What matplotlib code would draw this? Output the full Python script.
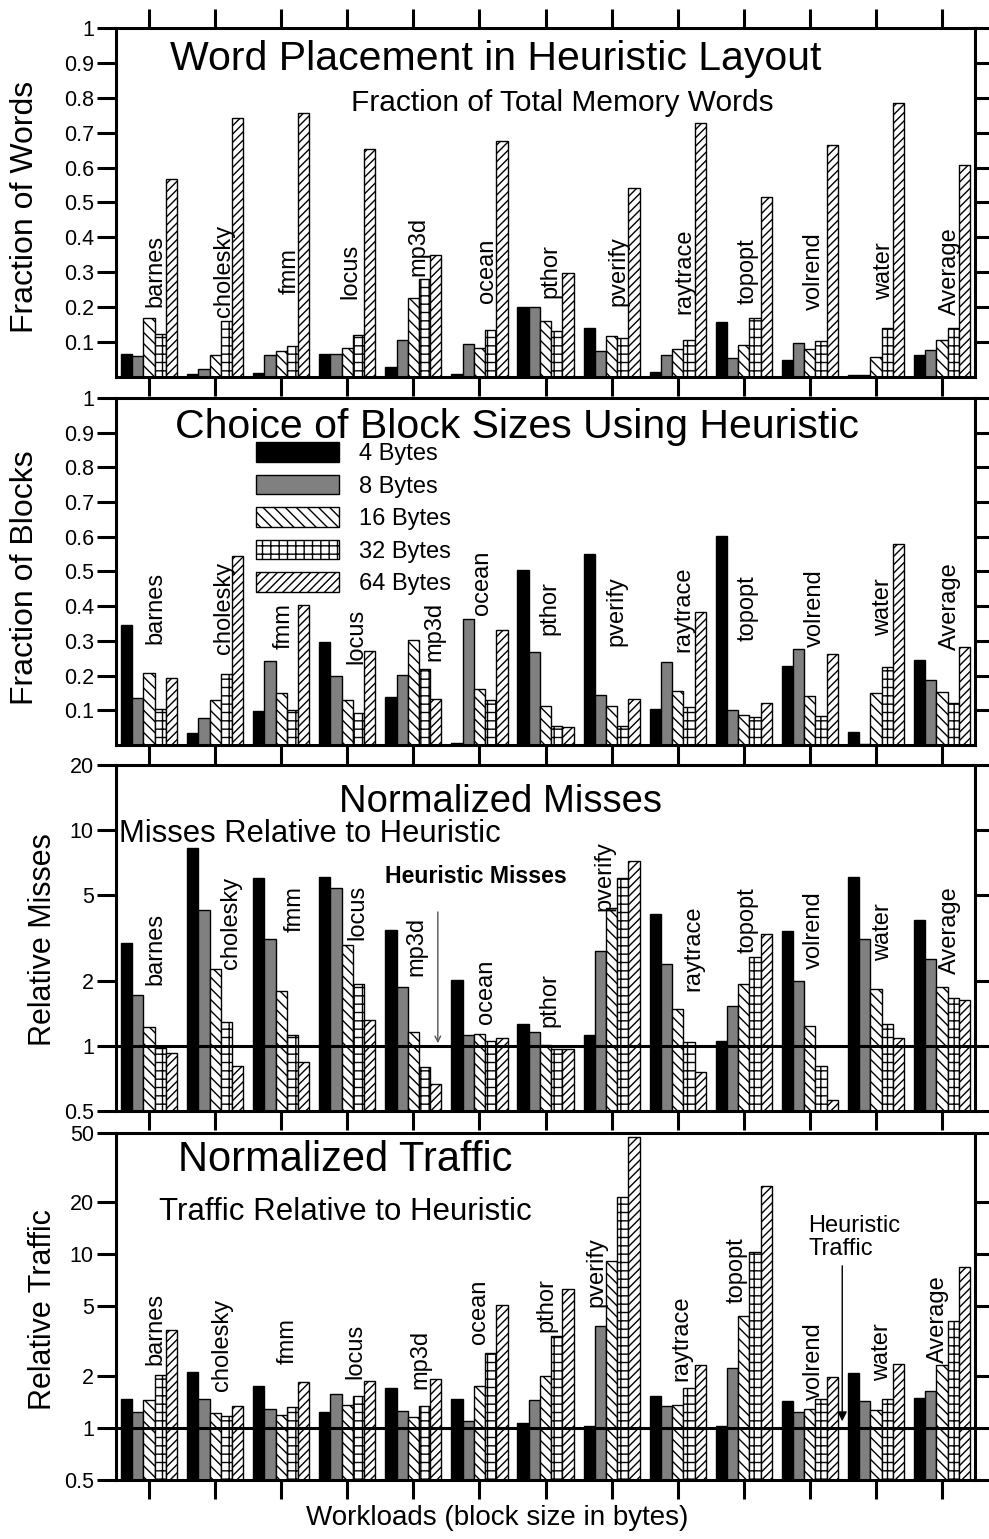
import numpy as np
import matplotlib
matplotlib.use("Agg")
import matplotlib.pyplot as plt
from matplotlib.ticker import NullLocator, FixedLocator, FixedFormatter

plt.rcParams['font.family'] = ['Liberation Sans', 'DejaVu Sans']
plt.rcParams['hatch.linewidth'] = 1.0

workloads = ["barnes", "cholesky", "fmm", "locus", "mp3d", "ocean", "pthor",
             "pverify", "raytrace", "topopt", "volrend", "water", "Average"]
sizes = ["4 Bytes", "8 Bytes", "16 Bytes", "32 Bytes", "64 Bytes"]

# fraction of total memory words placed in each block size
words_4 = [0.067, 0.010, 0.012, 0.067, 0.030, 0.010, 0.200, 0.141, 0.014, 0.158, 0.049, 0.006, 0.063]
words_8 = [0.060, 0.022, 0.062, 0.067, 0.107, 0.095, 0.200, 0.075, 0.062, 0.054, 0.096, 0.006, 0.076]
words_16 = [0.170, 0.062, 0.075, 0.083, 0.225, 0.082, 0.160, 0.117, 0.080, 0.091, 0.079, 0.057, 0.107]
words_32 = [0.122, 0.160, 0.088, 0.120, 0.280, 0.134, 0.132, 0.112, 0.106, 0.170, 0.103, 0.140, 0.140]
words_64 = [0.568, 0.743, 0.755, 0.654, 0.349, 0.677, 0.298, 0.542, 0.728, 0.517, 0.664, 0.784, 0.607]

# fraction of blocks chosen at each size
blocks_4 = [0.347, 0.035, 0.098, 0.298, 0.138, 0.006, 0.503, 0.549, 0.104, 0.602, 0.227, 0.037, 0.246]
blocks_8 = [0.136, 0.079, 0.242, 0.200, 0.203, 0.363, 0.267, 0.144, 0.239, 0.100, 0.278, 0.004, 0.188]
blocks_16 = [0.208, 0.129, 0.151, 0.129, 0.302, 0.160, 0.112, 0.112, 0.156, 0.087, 0.141, 0.149, 0.154]
blocks_32 = [0.105, 0.205, 0.100, 0.091, 0.220, 0.129, 0.056, 0.054, 0.109, 0.081, 0.083, 0.225, 0.121]
blocks_64 = [0.194, 0.545, 0.403, 0.271, 0.132, 0.330, 0.053, 0.132, 0.383, 0.122, 0.261, 0.578, 0.283]

# misses relative to heuristic layout
misses_4 = [3.01, 8.28, 6.02, 6.08, 3.43, 2.02, 1.26, 1.12, 4.09, 1.05, 3.39, 6.08, 3.83]
misses_8 = [1.73, 4.25, 3.13, 5.38, 1.88, 1.13, 1.165, 2.75, 2.39, 1.53, 2.00, 3.13, 2.54]
misses_16 = [1.23, 2.28, 1.80, 2.94, 1.165, 1.14, 1.01, 4.35, 1.49, 1.93, 1.24, 1.83, 1.87]
misses_32 = [0.977, 1.29, 1.12, 1.94, 0.80, 1.05, 0.97, 6.02, 1.04, 2.58, 0.805, 1.26, 1.66]
misses_64 = [0.93, 0.81, 0.84, 1.32, 0.664, 1.085, 0.97, 7.20, 0.76, 3.30, 0.56, 1.09, 1.64]

# traffic relative to heuristic layout
traffic_4 = [1.46, 2.10, 1.73, 1.24, 1.70, 1.46, 1.06, 1.03, 1.53, 1.03, 1.42, 2.07, 1.49]
traffic_8 = [1.24, 1.47, 1.29, 1.56, 1.25, 1.10, 1.45, 3.84, 1.33, 2.21, 1.24, 1.42, 1.62]
traffic_16 = [1.44, 1.22, 1.19, 1.35, 1.15, 1.73, 2.00, 9.09, 1.36, 4.38, 1.28, 1.27, 2.29]
traffic_32 = [2.02, 1.17, 1.32, 1.53, 1.33, 2.70, 3.40, 21.5, 1.69, 10.3, 1.47, 1.47, 4.15]
traffic_64 = [3.67, 1.33, 1.83, 1.87, 1.90, 5.10, 6.30, 47.4, 2.31, 24.6, 1.95, 2.32, 8.40]

# where the rotated workload names sit in each panel (x in group units, y in data units)
lab_x = [
    [0.10, 1.13, 2.13, 3.04, 4.07, 5.12, 6.07, 7.10, 8.10, 9.06, 10.06, 11.12, 12.12],
    [0.10, 1.13, 2.03, 3.13, 4.32, 5.04, 6.06, 7.08, 8.09, 9.06, 10.07, 11.10, 12.12],
    [0.10, 1.24, 2.20, 3.15, 4.05, 5.10, 6.06, 6.89, 8.23, 9.06, 10.06, 11.10, 12.12],
    [0.09, 1.10, 2.10, 3.12, 4.10, 5.00, 6.02, 6.77, 8.06, 8.89, 10.06, 11.09, 11.94],
]
lab_y = [
    [0.304, 0.304, 0.304, 0.304, 0.373, 0.304, 0.304, 0.304, 0.304, 0.304, 0.304, 0.304, 0.304],
    [0.394, 0.394, 0.342, 0.312, 0.327, 0.466, 0.394, 0.387, 0.390, 0.395, 0.394, 0.398, 0.400],
    [2.82, 3.73, 4.32, 4.14, 2.89, 1.78, 1.64, 6.15, 2.84, 3.83, 3.44, 3.38, 3.44],
    [3.70, 3.00, 3.17, 2.74, 2.47, 4.66, 5.10, 7.87, 3.30, 8.10, 2.43, 2.72, 4.24],
]

styles = [
    dict(facecolor="black"),
    dict(facecolor="#808080"),
    dict(facecolor="white", hatch="\\\\\\"),
    dict(facecolor="white", hatch="++"),
    dict(facecolor="white", hatch="////"),
]

fig = plt.figure(figsize=(9.89, 15.39), dpi=100)
L, W = 0.1173, 0.8686
rects = [
    [L, 0.75504, W, 0.22677],
    [L, 0.51592, W, 0.22547],
    [L, 0.27810, W, 0.22482],
    [L, 0.03834, W, 0.22547],
]
axes = [fig.add_axes(r) for r in rects]

x = np.arange(len(workloads))
bw = 0.17


def draw(ax, series, base):
    for i, (vals, st) in enumerate(zip(series, styles)):
        v = np.asarray(vals)
        ax.bar(x + (i - 2) * bw, v - base, bw, bottom=base, edgecolor="black",
               linewidth=1.0, label=sizes[i], **st)


draw(axes[0], [words_4, words_8, words_16, words_32, words_64], 0.0)
draw(axes[1], [blocks_4, blocks_8, blocks_16, blocks_32, blocks_64], 0.0)
draw(axes[2], [misses_4, misses_8, misses_16, misses_32, misses_64], 0.5)
draw(axes[3], [traffic_4, traffic_8, traffic_16, traffic_32, traffic_64], 0.5)

lin_ticks = [0.1, 0.2, 0.3, 0.4, 0.5, 0.6, 0.7, 0.8, 0.9, 1.0]
lin_labels = ["0.1", "0.2", "0.3", "0.4", "0.5", "0.6", "0.7", "0.8", "0.9", "1"]
for ax in axes[:2]:
    ax.set_ylim(0, 1)
    ax.yaxis.set_major_locator(FixedLocator(lin_ticks))
    ax.yaxis.set_major_formatter(FixedFormatter(lin_labels))

log_ticks = [[0.5, 1, 2, 5, 10, 20], [0.5, 1, 2, 5, 10, 20, 50]]
for ax, tk in zip(axes[2:], log_ticks):
    ax.set_yscale("log")
    ax.set_ylim(tk[0], tk[-1])
    ax.yaxis.set_major_locator(FixedLocator(tk))
    ax.yaxis.set_major_formatter(FixedFormatter([f"{t:g}" for t in tk]))
    ax.yaxis.set_minor_locator(NullLocator())
    ax.axhline(1, color="black", lw=2.2, zorder=3)

for i, ax in enumerate(axes):
    ax.set_xlim(-0.5, 12.5)
    ax.set_xticks(x)
    ax.tick_params(axis="x", which="both", direction="out", length=14, width=2.2,
                   labelbottom=False, top=(i == 0), bottom=True)
    ax.tick_params(axis="y", which="major", direction="out", length=14, width=2.2,
                   left=True, right=True, labelsize=15.5, pad=2)
    for s in ax.spines.values():
        s.set_linewidth(2.2)
    for name, lx, ly in zip(workloads, lab_x[i], lab_y[i]):
        ax.text(lx, ly, name, rotation=90, ha="center", va="center", fontsize=17, zorder=4)

ax = axes[0]
ax.text(0.442, 0.880, "Word Placement in Heuristic Layout", transform=ax.transAxes,
        ha="center", va="baseline", fontsize=29.5)
ax.text(0.52, 0.761, "Fraction of Total Memory Words", transform=ax.transAxes,
        ha="center", va="baseline", fontsize=21.5)

ax = axes[1]
ax.text(0.467, 0.885, "Choice of Block Sizes Using Heuristic", transform=ax.transAxes,
        ha="center", va="baseline", fontsize=29.5)
ax.legend(loc="upper left", bbox_to_anchor=(0.163, 0.872), frameon=False, fontsize=17,
          handlelength=3.5, handleheight=0.9, handletextpad=0.85, labelspacing=0.4,
          borderpad=0, borderaxespad=0)

ax = axes[2]
ax.text(0.448, 0.865, "Normalized Misses", transform=ax.transAxes,
        ha="center", va="baseline", fontsize=27.5)
ax.text(0.226, 0.778, "Misses Relative to Heuristic", transform=ax.transAxes,
        ha="center", va="baseline", fontsize=22.3)
ax.text(0.4185, 0.658, "Heuristic Misses", transform=ax.transAxes,
        ha="center", va="baseline", fontsize=16.7, fontweight="bold")
ax.annotate("", xy=(4.37, 1.0), xytext=(4.37, 4.3),
            arrowprops=dict(arrowstyle="->", color="#555555", lw=1.0))

ax = axes[3]
ax.text(0.267, 0.890, "Normalized Traffic", transform=ax.transAxes,
        ha="center", va="baseline", fontsize=30)
ax.text(0.2666, 0.749, "Traffic Relative to Heuristic", transform=ax.transAxes,
        ha="center", va="baseline", fontsize=22.5)
ax.text(0.8056, 0.7156, "Heuristic", transform=ax.transAxes,
        ha="left", va="baseline", fontsize=17)
ax.text(0.8056, 0.648, "Traffic", transform=ax.transAxes,
        ha="left", va="baseline", fontsize=17)
ax.annotate("", xy=(10.49, 1.05), xytext=(10.49, 8.9),
            arrowprops=dict(arrowstyle="-|>", color="black", lw=1.0, mutation_scale=14))

# y labels and x label placed in figure pixels
H = 1539.0
fig.text(25 / 989, 1 - 207 / H, "Fraction of Words", rotation=90, ha="center", va="center", fontsize=23)
fig.text(25 / 989, 1 - 578 / H, "Fraction of Blocks", rotation=90, ha="center", va="center", fontsize=23)
fig.text(43 / 989, 1 - 940 / H, "Relative Misses", rotation=90, ha="center", va="center", fontsize=22)
fig.text(43 / 989, 1 - 1310 / H, "Relative Traffic", rotation=90, ha="center", va="center", fontsize=22)
fig.text(497 / 989, 1 - 1518 / H, "Workloads (block size in bytes)", ha="center", va="center", fontsize=20)

fig.savefig("out.png", dpi=100)
